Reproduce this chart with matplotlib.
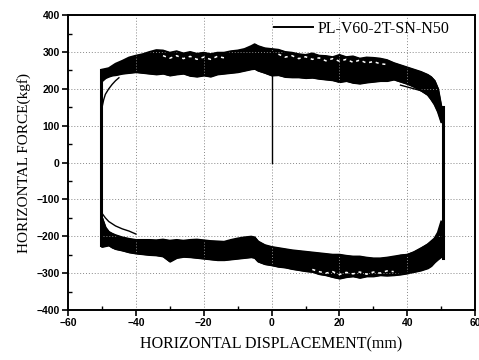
import matplotlib
matplotlib.use("Agg")
import matplotlib.pyplot as plt
from matplotlib.ticker import MultipleLocator

# displacement grid (mm)
disp = [-50, -49, -48, -47, -46, -44, -42, -40, -38, -36, -34, -32, -30, -28, -26, -24,
        -22, -20, -18, -16, -14, -12, -10, -8, -6, -5, -4, -2, 0, 2, 4, 6, 8, 10, 12, 14,
        16, 18, 20, 22, 24, 26, 28, 30, 32, 34, 36, 38, 40, 42, 44, 46, 47, 48, 49, 50]

# upper (positive) force band, kgf
upper_top = [252, 254, 256, 262, 268, 276, 285, 290, 294, 300, 305, 304, 298, 302, 296, 300,
             295, 298, 294, 298, 298, 302, 304, 308, 316, 321, 316, 310, 308, 306, 300, 298,
             294, 292, 296, 290, 289, 286, 292, 286, 288, 282, 285, 284, 282, 278, 270, 264,
             258, 252, 246, 238, 232, 222, 200, 150]
upper_bot = [222, 230, 234, 237, 238, 242, 244, 246, 244, 242, 240, 242, 237, 240, 242, 236,
             234, 237, 234, 240, 242, 244, 246, 250, 254, 255, 250, 244, 237, 238, 233, 232,
             232, 230, 231, 228, 226, 224, 219, 222, 217, 215, 218, 220, 222, 222, 226, 220,
             214, 206, 196, 184, 172, 158, 138, 110]

# lower (negative) force band, kgf
lower_top = [-150, -176, -188, -193, -197, -203, -207, -210, -210, -210, -211, -209, -212, -210,
             -212, -210, -209, -211, -213, -214, -215, -210, -206, -203, -201, -203, -214, -224,
             -229, -232, -235, -238, -240, -242, -244, -246, -248, -250, -250, -253, -255, -255,
             -258, -260, -260, -258, -255, -252, -250, -244, -234, -222, -214, -206, -190, -160]
lower_bot = [-228, -226, -224, -230, -234, -238, -243, -246, -248, -250, -251, -254, -268, -258,
             -255, -256, -258, -260, -262, -264, -264, -262, -260, -258, -256, -258, -268, -275,
             -278, -282, -284, -288, -291, -294, -296, -302, -305, -310, -314, -310, -308, -312,
             -308, -308, -305, -306, -305, -303, -300, -296, -292, -286, -280, -270, -262, -255]

# first-cycle branches (thin lines)
c1_ul_x = [-50.2, -49.5, -49, -48, -47, -46, -45]
c1_ul_y = [140, 170, 185, 200, 212, 222, 230]
c1_ur_x = [38, 40, 42, 44, 46, 48, 49.5, 50.3]
c1_ur_y = [210, 205, 200, 195, 188, 170, 148, 120]
c1_ll_x = [-50.2, -49, -48, -46, -44, -42, -40]
c1_ll_y = [-135, -150, -160, -172, -180, -186, -194]
c1_lr_x = [38, 40, 42, 44, 46, 48, 49.5, 50.3]
c1_lr_y = [-252, -250, -242, -232, -222, -210, -192, -170]

# white gaps inside the bands
gap_u_x = [-32, -30, -28, -26, -24, -22, -20, -18, -16, -14]
gap_u_y = [290, 283, 290, 282, 288, 280, 286, 280, 288, 284]
gap_u2_x = [2, 4, 6, 8, 10, 12, 14, 16, 18, 20, 22, 24, 26, 28, 30, 32, 34]
gap_u2_y = [294, 286, 290, 282, 287, 280, 284, 276, 282, 275, 280, 272, 278, 270, 274, 268, 266]
gap_l_x = [12, 14, 16, 18, 20, 22, 24, 26, 28, 30, 32, 34, 36]
gap_l_y = [-290, -296, -300, -296, -304, -298, -302, -297, -303, -297, -300, -294, -296]

# initial loading and reversal edges
init_x = [0, 0]
init_y = [0, 300]
left_x = [-50.3, -50.3]
left_y = [-225, 252]
right_x = [50.4, 50.4]
right_y = [-258, 150]

xticks = [-60, -40, -20, 0, 20, 40, 60]
yticks = [-400, -300, -200, -100, 0, 100, 200, 300, 400]

fig = plt.figure(figsize=(4.79, 3.60), dpi=100)
ax = fig.add_axes([0.142, 0.139, 0.85, 0.819])

ax.fill_between(disp, upper_bot, upper_top, color="black", lw=1.2)
ax.fill_between(disp, lower_bot, lower_top, color="black", lw=1.2)
ax.plot(disp, upper_top, color="black", lw=1.4, label="PL-V60-2T-SN-N50")
ax.plot(disp, upper_bot, color="black", lw=1.4)
ax.plot(disp, lower_top, color="black", lw=1.4)
ax.plot(disp, lower_bot, color="black", lw=1.4)

for gx, gy in [(gap_u_x, gap_u_y), (gap_u2_x, gap_u2_y), (gap_l_x, gap_l_y)]:
    ax.plot(gx, gy, color="white", lw=1.1, dashes=(2, 2.5))

for cx, cy in [(c1_ul_x, c1_ul_y), (c1_ur_x, c1_ur_y), (c1_ll_x, c1_ll_y), (c1_lr_x, c1_lr_y)]:
    ax.plot(cx, cy, color="black", lw=1.0)

ax.plot(init_x, init_y, color="black", lw=1.0)
ax.plot(left_x, left_y, color="black", lw=2.2)
ax.plot(right_x, right_y, color="black", lw=2.2)

ax.set_xlim(-60, 60)
ax.set_ylim(-400, 400)
ax.set_xticks(xticks)
ax.set_yticks(yticks)
ax.xaxis.set_minor_locator(MultipleLocator(10))
ax.yaxis.set_minor_locator(MultipleLocator(50))
ax.tick_params(which="major", direction="out", length=4, width=1.2, labelsize=7.5, pad=2)
ax.tick_params(which="minor", direction="in", length=3, width=1.0)
for lab in ax.get_xticklabels() + ax.get_yticklabels():
    lab.set_fontfamily("Liberation Sans")
    lab.set_fontweight("bold")

ax.grid(True, which="major", color="#888888", linestyle=(0, (1, 2)), lw=0.7)
for s in ax.spines.values():
    s.set_linewidth(1.4)

ax.set_xlabel("HORIZONTAL DISPLACEMENT(mm)", fontfamily="Liberation Serif", fontsize=11.5, labelpad=6)
ax.set_ylabel("HORIZONTAL FORCE(kgf)", fontfamily="Liberation Serif", fontsize=11, labelpad=4)

leg = ax.legend(loc="center", bbox_to_anchor=(0.722, 0.953), frameon=False,
                prop={"family": "Liberation Serif", "size": 11.5},
                handlelength=2.4, handletextpad=0.3, borderpad=0)

fig.savefig("out.png", dpi=100)
